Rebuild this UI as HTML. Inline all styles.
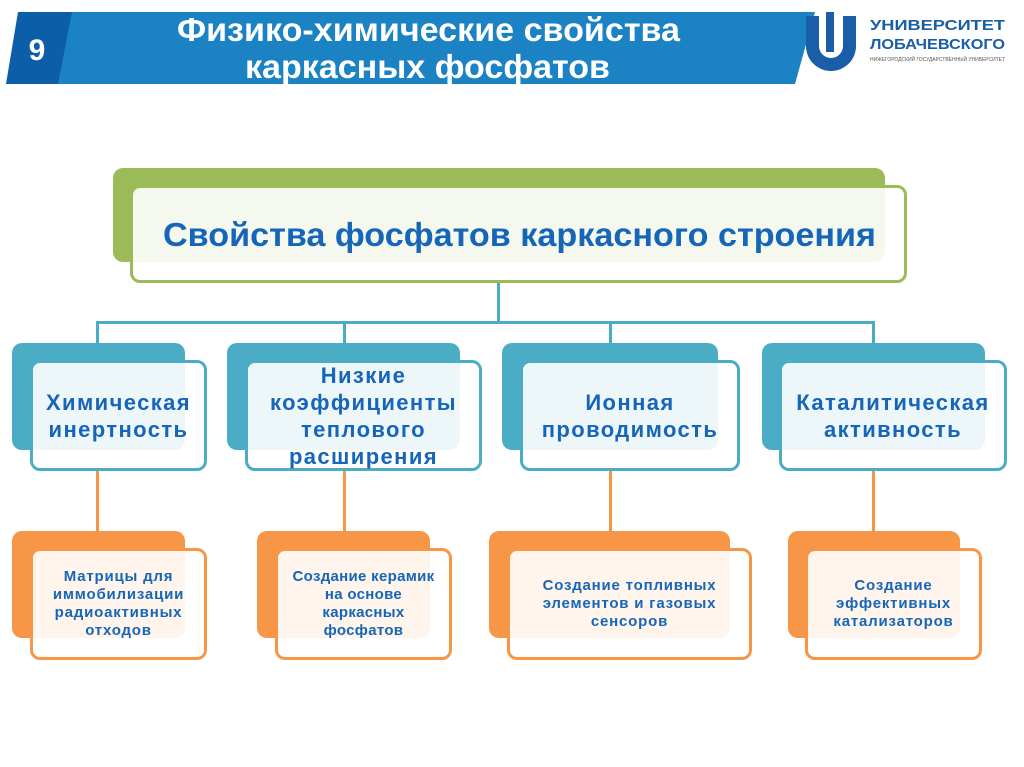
<!DOCTYPE html>
<html><head><meta charset="utf-8"><style>
body{margin:0;width:1024px;height:767px;background:#fff;position:relative;overflow:hidden;font-family:"Liberation Sans",sans-serif}
.a{position:absolute;box-sizing:border-box}
.bk{border-radius:10px}
.fr{border-radius:10px;border:3px solid;background:rgba(255,255,255,0.9);display:flex;align-items:center;justify-content:center;text-align:center;color:#1565b8;font-weight:bold}
.b .fr,.fr.b{border-color:#4bacc6}
.l2{font-size:22px;line-height:27px;letter-spacing:1.4px}
.l3{font-size:15px;line-height:18px;letter-spacing:0.8px}
.o{border-color:#f79646}
.ln{position:absolute;background:#4bacc6}
.lo{position:absolute;background:#f79646;width:3px}
</style></head><body>
<svg class="a" style="left:0;top:0" width="1024" height="100">
<polygon points="58,12 815,12 795,84 50,84" fill="#1b82c4"/>
<polygon points="18,12 72,12 58,84 6,84" fill="#0d5ea8"/>
<text x="37" y="60" fill="#fff" font-family="Liberation Sans,sans-serif" font-weight="bold" font-size="30" text-anchor="middle">9</text>
<text x="177" y="41" fill="#fff" font-family="Liberation Sans,sans-serif" font-weight="bold" font-size="33" textLength="503" lengthAdjust="spacingAndGlyphs">Физико-химические свойства</text>
<text x="245" y="78" fill="#fff" font-family="Liberation Sans,sans-serif" font-weight="bold" font-size="33" textLength="365" lengthAdjust="spacingAndGlyphs">каркасных фосфатов</text>
<path d="M806,16 v30 a25,25 0 0 0 50,0 v-30 h-13 v30 a12,12 0 0 1 -24,0 v-30z" fill="#1a5ea8"/>
<rect x="826" y="12" width="8" height="40" fill="#1a5ea8"/>
<text x="870" y="30" fill="#1a5ea8" font-weight="bold" font-size="15" font-family="Liberation Sans,sans-serif" textLength="135" lengthAdjust="spacingAndGlyphs">УНИВЕРСИТЕТ</text>
<text x="870" y="49" fill="#1a5ea8" font-weight="bold" font-size="15" font-family="Liberation Sans,sans-serif" textLength="135" lengthAdjust="spacingAndGlyphs">ЛОБАЧЕВСКОГО</text>
<text x="870" y="61" fill="#555" font-size="5" font-family="Liberation Sans,sans-serif" textLength="135" lengthAdjust="spacingAndGlyphs">НИЖЕГОРОДСКИЙ ГОСУДАРСТВЕННЫЙ УНИВЕРСИТЕТ</text>
</svg>

<div class="a bk" style="left:113px;top:168px;width:772px;height:94px;background:#9bbb59"></div>
<div class="a fr" style="left:130px;top:185px;width:777px;height:98px;border-color:#9bbb59"></div>
<svg class="a" style="left:0;top:200px" width="1024" height="60"><text x="163" y="46" fill="#1565b8" font-weight="bold" font-size="33" font-family="Liberation Sans,sans-serif" textLength="713" lengthAdjust="spacingAndGlyphs">Свойства фосфатов каркасного строения</text></svg>

<div class="ln" style="left:497px;top:283px;width:3px;height:40px"></div>
<div class="ln" style="left:96px;top:321px;width:779px;height:3px"></div>
<div class="ln" style="left:96px;top:321px;width:3px;height:24px"></div>
<div class="ln" style="left:343px;top:321px;width:3px;height:24px"></div>
<div class="ln" style="left:609px;top:321px;width:3px;height:24px"></div>
<div class="ln" style="left:872px;top:321px;width:3px;height:24px"></div>

<div class="lo" style="left:96px;top:470px;height:62px"></div>
<div class="lo" style="left:343px;top:470px;height:62px"></div>
<div class="lo" style="left:609px;top:470px;height:62px"></div>
<div class="lo" style="left:872px;top:470px;height:62px"></div>

<div class="a bk" style="left:12px;top:343px;width:173px;height:107px;background:#4bacc6"></div>
<div class="a fr b l2" style="left:30px;top:360px;width:177px;height:111px">Химическая<br>инертность</div>
<div class="a bk" style="left:227px;top:343px;width:233px;height:107px;background:#4bacc6"></div>
<div class="a fr b l2" style="left:245px;top:360px;width:237px;height:111px">Низкие<br>коэффициенты<br>теплового<br>расширения</div>
<div class="a bk" style="left:502px;top:343px;width:216px;height:107px;background:#4bacc6"></div>
<div class="a fr b l2" style="left:520px;top:360px;width:220px;height:111px">Ионная<br>проводимость</div>
<div class="a bk" style="left:762px;top:343px;width:223px;height:107px;background:#4bacc6"></div>
<div class="a fr b l2" style="left:779px;top:360px;width:228px;height:111px">Каталитическая<br>активность</div>

<div class="a bk" style="left:12px;top:531px;width:173px;height:107px;background:#f79646"></div>
<div class="a fr o l3" style="left:30px;top:548px;width:177px;height:112px">Матрицы для<br>иммобилизации<br>радиоактивных<br>отходов</div>
<div class="a bk" style="left:257px;top:531px;width:173px;height:107px;background:#f79646"></div>
<div class="a fr o l3" style="left:275px;top:548px;width:177px;height:112px;letter-spacing:0.3px">Создание керамик<br>на основе<br>каркасных<br>фосфатов</div>
<div class="a bk" style="left:489px;top:531px;width:241px;height:107px;background:#f79646"></div>
<div class="a fr o l3" style="left:507px;top:548px;width:245px;height:112px">Создание топливных<br>элементов и газовых<br>сенсоров</div>
<div class="a bk" style="left:788px;top:531px;width:172px;height:107px;background:#f79646"></div>
<div class="a fr o l3" style="left:805px;top:548px;width:177px;height:112px">Создание<br>эффективных<br>катализаторов</div>
</body></html>
